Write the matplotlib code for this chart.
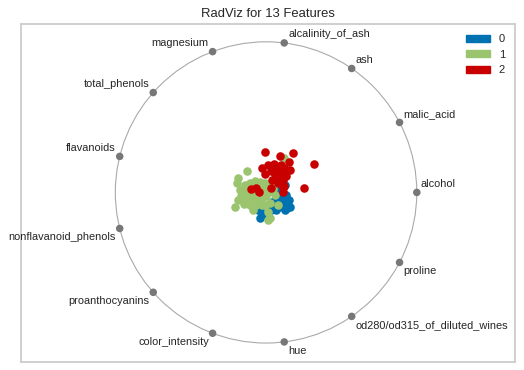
import numpy as np
import matplotlib
matplotlib.use("Agg")
import matplotlib.pyplot as plt
import matplotlib.patches as mpatches

plt.rcParams['font.family'] = ['Liberation Sans', 'DejaVu Sans']

features = ["alcohol", "malic_acid", "ash", "alcalinity_of_ash", "magnesium",
            "total_phenols", "flavanoids", "nonflavanoid_phenols",
            "proanthocyanins", "color_intensity", "hue",
            "od280/od315_of_diluted_wines", "proline"]
classes = ["0", "1", "2"]
colors = ["#0072B2", "#9BC46E", "#C80000"]

# projected radviz positions
class0_x = [0.113, 0.126, 0.093, 0.133, 0.106, 0.080, 0.060, 0.119, 0.146, 0.113,
            0.139, 0.086, 0.046, 0.066, 0.033, 0.013, -0.040, -0.053, -0.040, -0.027,
            0.093, 0.119, 0.153, 0.073, 0.040, 0.126, 0.159, 0.100]
class0_y = [0.043, 0.050, 0.017, -0.017, -0.036, -0.050, -0.050, -0.070, -0.083, -0.096,
            -0.103, -0.096, -0.090, -0.116, -0.116, -0.083, -0.116, -0.116, -0.169, -0.149,
            -0.017, -0.050, -0.050, -0.023, -0.063, -0.116, -0.096, -0.076]

class1_x = [-0.206, -0.126, -0.186, -0.192, 0.013, 0.013, -0.153, -0.173, -0.139, -0.106,
            -0.073, -0.040, -0.007, 0.027, -0.093, -0.119, -0.146, -0.106, -0.066, -0.027,
            0.000, -0.040, -0.133, -0.166, -0.066, -0.027, 0.027, 0.027, 0.080, 0.060,
            0.119, -0.186, -0.080, -0.113, -0.053, -0.020, 0.013, 0.046, -0.007, -0.086]
class1_y = [-0.096, 0.143, 0.096, 0.063, -0.182, -0.129, -0.036, 0.017, 0.050, 0.063,
            0.076, 0.070, 0.063, 0.056, -0.017, -0.050, -0.076, -0.083, -0.050, -0.036,
            -0.023, 0.003, 0.003, -0.023, -0.083, -0.083, -0.070, -0.169, -0.083, -0.017,
            0.229, -0.050, 0.017, 0.030, 0.043, 0.030, 0.003, 0.023, -0.083, -0.116]

class2_x = [-0.01, 0.09, 0.18, 0.15, 0.32, 0.25, 0.03, -0.10, -0.05, 0.11,
            0.11, -0.03, 0.01, 0.05, 0.07, 0.03, 0.06, 0.09, 0.12, 0.14,
            0.10, 0.13, 0.16, 0.08, -0.01, 0.11, 0.04, -0.07, 0.12, 0.10, 0.08]
class2_y = [0.27, 0.24, 0.26, 0.20, 0.19, 0.03, 0.03, 0.02, 0.00, 0.03,
            0.00, 0.16, 0.18, 0.19, 0.17, 0.14, 0.12, 0.14, 0.16, 0.14,
            0.12, 0.11, 0.15, 0.10, 0.12, 0.08, 0.08, 0.03, 0.04, 0.18, 0.06]

xs = [class0_x, class1_x, class2_x]
ys = [class0_y, class1_y, class2_y]

fig = plt.figure(figsize=(5.24, 3.70), dpi=100)
ax = fig.add_axes([0.040, 0.022, 0.943, 0.913])

for x, y, c, lab in zip(xs, ys, colors, classes):
    ax.scatter(x, y, color=c, label=lab, s=38, linewidths=0, zorder=2)

#outer circle and feature anchors
ax.add_patch(mpatches.Circle((0.0, 0.0), radius=1.0, facecolor="none",
                             edgecolor="#aaaaaa", linewidth=0.8, zorder=1))
n = len(features)
angles = 2 * np.pi * np.arange(n) / n
for t, name in zip(angles, features):
    px, py = np.cos(t), np.sin(t)
    ax.add_patch(mpatches.Circle((px, py), radius=0.025, facecolor="#777777",
                                 edgecolor="none", zorder=3))
    ha = "right" if px < -1e-9 else "left"
    va = "top" if py < -1e-9 else "bottom"
    dx = -0.025 if ha == "right" else 0.025
    dy = -0.025 if va == "top" else 0.025
    ax.text(px + dx, py + dy, name, ha=ha, va=va, fontsize=7.9, color="#262626")

ax.set_xlim(-1.626, 1.652)
ax.set_ylim(-1.125, 1.118)
ax.set_xticks([])
ax.set_yticks([])
for sp in ax.spines.values():
    sp.set_color("#cccccc")
    sp.set_linewidth(1.3)

ax.set_title("RadViz for 13 Features", fontsize=9.4, color="#262626", pad=5)

handles = [mpatches.Patch(color=c) for c in colors]
ax.legend(handles, classes, loc="upper right", frameon=False, fontsize=8,
          handlelength=2.2, handleheight=0.6, labelspacing=0.5,
          labelcolor="#262626")

fig.savefig("out.png", dpi=100)
